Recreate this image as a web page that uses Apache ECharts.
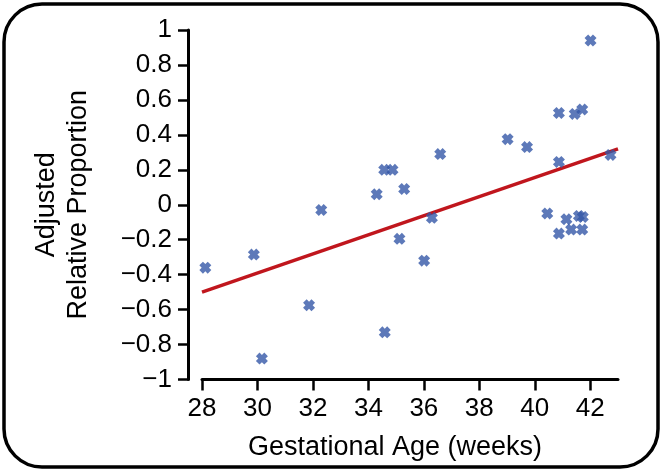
<!DOCTYPE html>
<html>
<head>
<meta charset="utf-8">
<script src="https://cdn.jsdelivr.net/npm/echarts@6/dist/echarts.min.js"></script>
<style>
html,body{margin:0;padding:0;background:#fff;}
#chart{width:664px;height:472px;}
</style>
</head>
<body>
<div id="chart"></div>
<script>
// Data
const gestAge = [28.12, 29.87, 30.16, 31.86, 32.30, 34.30, 34.57, 34.87, 35.29, 35.12,
  34.59, 36.01, 36.29, 36.59, 39.02, 39.72, 40.45, 40.87, 40.87, 40.87,
  41.14, 41.31, 41.44, 41.59, 41.73, 41.71, 41.71, 42.01, 42.73];
const relProp = [-0.36, -0.285, -0.88, -0.575, -0.03, 0.06, 0.20, 0.20, 0.09, -0.195,
  -0.73, -0.32, -0.075, 0.29, 0.375, 0.33, -0.05, 0.245, 0.525, -0.165,
  -0.083, -0.142, 0.52, -0.064, -0.07, 0.545, -0.142, 0.94, 0.285];
const fitX = [28, 43];
const fitY = [-0.5, 0.32];
const xTicks = [28, 30, 32, 34, 36, 38, 40, 42];
const yTickLabels = ['1', '0.8', '0.6', '0.4', '0.2', '0', '−0.2', '−0.4', '−0.6', '−0.8', '−1'];

const FONT = 'Liberation Sans, Arial, Helvetica, sans-serif';
const chart = echarts.init(document.getElementById('chart'), null, {renderer: 'canvas'});
const crossPath = 'path://M0,3 L3,0 L5,2 L7,0 L10,3 L8,5 L10,7 L7,10 L5,8 L3,10 L0,7 L2,5 Z';

chart.setOption({
  animation: false,
  backgroundColor: '#ffffff',
  graphic: [{
    type: 'rect',
    shape: {x: 4, y: 4, width: 654, height: 463, r: 38},
    style: {fill: 'none', stroke: '#000', lineWidth: 3.5},
    silent: true
  }],
  grid: {left: 202, right: 46, top: 30, bottom: 92.5},
  xAxis: {
    type: 'value',
    min: 28, max: 43, interval: 2,
    splitLine: {show: false},
    axisLine: {show: true, onZero: false, lineStyle: {color: '#000', width: 3}},
    axisTick: {show: true, length: 11, lineStyle: {color: '#000', width: 2.5}, customValues: xTicks},
    axisLabel: {color: '#000', fontSize: 26, fontFamily: FONT, margin: 16, customValues: xTicks},
    name: 'Gestational Age (weeks)',
    nameLocation: 'middle',
    nameGap: 55,
    nameTextStyle: {color: '#000', fontSize: 27, fontFamily: FONT, padding: [0, 30, 0, 0]}
  },
  yAxis: {
    type: 'value',
    min: -1, max: 1, interval: 0.2,
    offset: 14,
    splitLine: {show: false},
    axisLine: {show: true, onZero: false, lineStyle: {color: '#000', width: 3}},
    axisTick: {show: true, length: 10, lineStyle: {color: '#000', width: 2.5}},
    axisLabel: {
      color: '#000', fontSize: 26, fontFamily: FONT, margin: 16,
      formatter: function (v) {
        const i = Math.round((1 - v) / 0.2);
        return yTickLabels[i];
      }
    },
    name: 'Adjusted\nRelative Proportion',
    nameLocation: 'middle',
    nameGap: 93,
    nameTextStyle: {color: '#000', fontSize: 27, fontFamily: FONT, lineHeight: 32, align: 'center'}
  },
  series: [{
    type: 'line',
    data: fitX.map((x, i) => [x, fitY[i]]),
    showSymbol: false,
    symbol: 'none',
    lineStyle: {color: '#c0161d', width: 3.5},
    z: 2
  }, {
    type: 'scatter',
    data: gestAge.map((x, i) => [x, relProp[i]]),
    symbol: crossPath,
    symbolSize: 12,
    itemStyle: {color: '#3458a8'},
    z: 3
  }]
});
</script>
</body>
</html>
